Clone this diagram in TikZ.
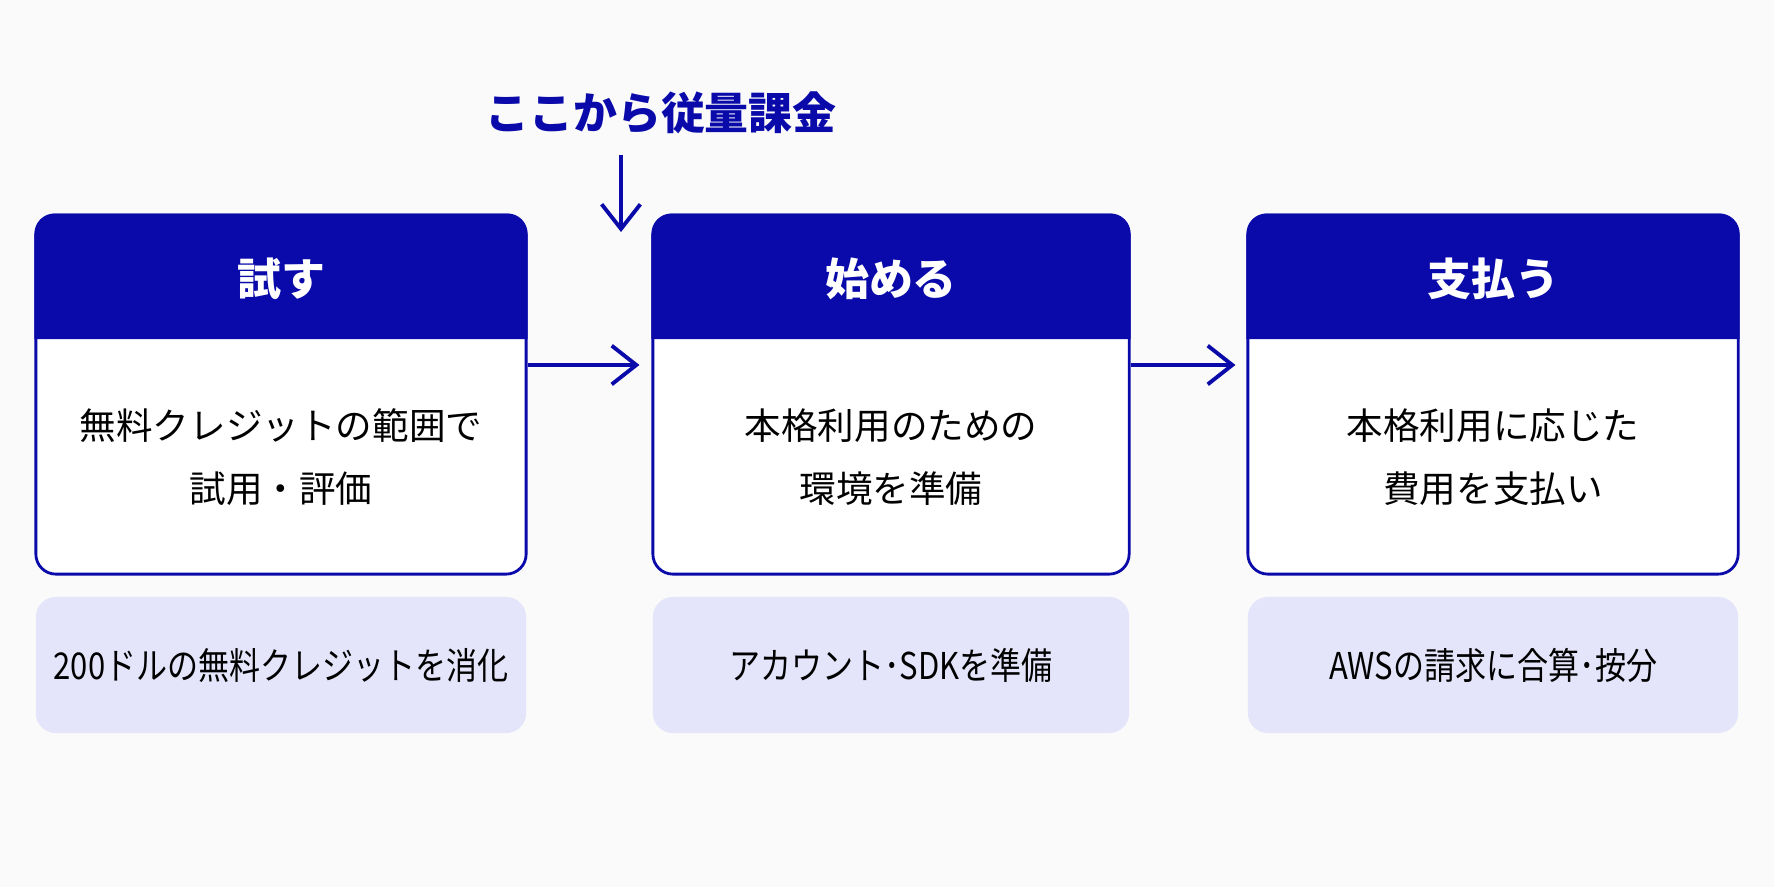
\documentclass[tikz,border=0pt]{standalone}
\usepackage{fontspec}
\usepackage{xcolor}
\usepackage{graphicx}
\usepackage{tikz}
\usetikzlibrary{arrows.meta}
\setmainfont{Noto Sans CJK JP}
\definecolor{navy}{RGB}{10,10,170}
\definecolor{lav}{RGB}{228,228,250}
\definecolor{paper}{RGB}{250,250,250}
\newcommand{\narrow}[1]{\scalebox{0.84}[1]{#1}}
\tikzset{
  card/.style={draw=navy, line width=0.8pt, rounded corners=0.2cm, fill=white, minimum height=3.59cm, inner sep=0pt},
  note/.style={fill=lav, rounded corners=0.2cm, minimum height=1.36cm, inner sep=0pt, font=\fontsize{10.5}{12}\selectfont},
  head/.style={text=white, inner sep=0pt, font=\bfseries\fontsize{12.5}{15}\selectfont},
  body/.style={align=center, inner sep=0pt, font=\fontsize{10.4}{17.9}\selectfont},
  flow/.style={-{Straight Barb[length=7pt,width=11pt]}, draw=navy, line width=1.1pt}
}

\begin{document}
\begin{tikzpicture}[x=0.01cm, y=-0.01cm]
    \fill [paper] (0, 0) rectangle (1774, 887);
    \useasboundingbox (0, 0) rectangle (1774, 887);

    % cards
    \node (try) [card, minimum width=4.9cm] at (281, 394.5) {};
    \node (start) [card, minimum width=4.76cm] at (891, 394.5) {};
    \node (pay) [card, minimum width=4.9cm] at (1493, 394.5) {};

    % headers
    \fill [navy] (try.west |- 0, 339) [rounded corners=0.2cm] -- (try.north west) -- (try.north east) [sharp corners] -- (try.east |- 0, 339) -- cycle;
    \fill [navy] (start.west |- 0, 339) [rounded corners=0.2cm] -- (start.north west) -- (start.north east) [sharp corners] -- (start.east |- 0, 339) -- cycle;
    \fill [navy] (pay.west |- 0, 339) [rounded corners=0.2cm] -- (pay.north west) -- (pay.north east) [sharp corners] -- (pay.east |- 0, 339) -- cycle;

    \node (tryhead) [head] at (281, 279) {試す};
    \node (starthead) [head] at (891, 279) {始める};
    \node (payhead) [head] at (1493, 279) {支払う};

    \node (trybody) [body] at (281, 457) {無料クレジットの範囲で\\試用・評価};
    \node (startbody) [body] at (891, 457) {本格利用のための\\環境を準備};
    \node (paybody) [body] at (1493, 457) {本格利用に応じた\\費用を支払い};

    % notes below
    \node (trynote) [note, minimum width=4.9cm] at (281, 665) {\narrow{200ドルの無料クレジットを消化}};
    \node (startnote) [note, minimum width=4.76cm] at (891, 665) {\narrow{アカウント･SDKを準備}};
    \node (paynote) [note, minimum width=4.9cm] at (1493, 665) {\narrow{AWSの請求に合算･按分}};

    % flow
    \draw [flow, shorten >=0.12cm] ([yshift=0.295cm]try.east) -- ([yshift=0.295cm]start.west);
    \draw [flow, shorten >=0.11cm] ([yshift=0.295cm]start.east) -- ([yshift=0.295cm]pay.west);

    % pay-as-you-go mark
    \node (charge) [text=navy, inner sep=0pt, font=\bfseries\fontsize{12.5}{15}\selectfont] at (661, 113) {ここから従量課金};
    \coordinate (chargeend) at (621, 232);
    \draw [flow, shorten <=0.2cm] (charge.south -| chargeend) -- (chargeend);
\end{tikzpicture}
\end{document}
